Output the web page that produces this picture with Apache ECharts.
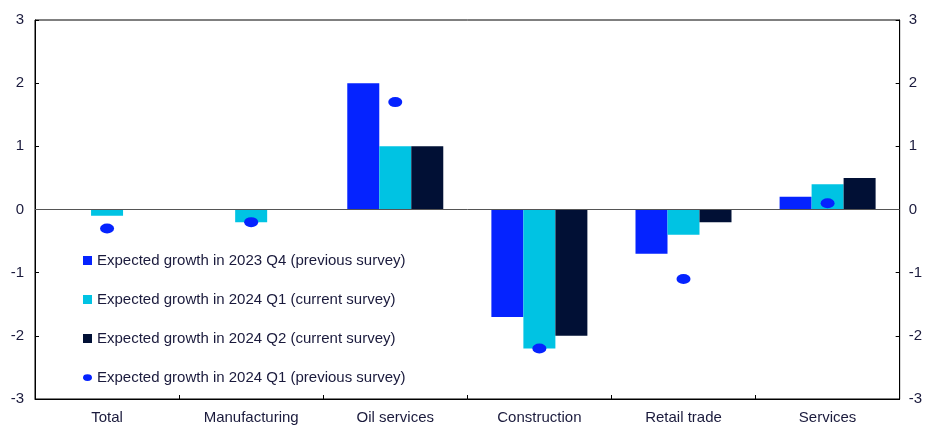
<!DOCTYPE html>
<html>
<head>
<meta charset="utf-8">
<script src="https://cdn.jsdelivr.net/npm/echarts@6/dist/echarts.min.js"></script>
<style>
  html, body { margin: 0; padding: 0; background: #fff; }
  #chart { width: 925px; height: 425px; }
</style>
</head>
<body>
<div id="chart"></div>
<script>
// sectors on the x axis
const categories = ['Total', 'Manufacturing', 'Oil services', 'Construction', 'Retail trade', 'Services']

// bar series
const prev2023Q4 = [0, 0, 2.0, -1.7, -0.7, 0.2]
const cur2024Q1 = [-0.1, -0.2, 1.0, -2.2, -0.4, 0.4]
const cur2024Q2 = [0, 0, 1.0, -2.0, -0.2, 0.5]
// dots
const prev2024Q1 = [-0.3, -0.2, 1.7, -2.2, -1.1, 0.1]

const seriesNames = [
  'Expected growth in 2023 Q4 (previous survey)',
  'Expected growth in 2024 Q1 (current survey)',
  'Expected growth in 2024 Q2 (current survey)',
  'Expected growth in 2024 Q1 (previous survey)'
]

const ink = '#1a1a3c'
const font = 'Liberation Sans, Arial, sans-serif'
const colors = ['#0523ff', '#00c3e3', '#011035', '#0523ff']

function valueAxis(pos) {
  return {
    type: 'value',
    position: pos,
    min: -3,
    max: 3,
    interval: 1,
    axisLine: { show: true, lineStyle: { color: '#000', width: 1 } },
    axisTick: { show: true, inside: true, length: 4, lineStyle: { color: '#000' } },
    splitLine: { show: false },
    axisLabel: {
      color: ink, fontFamily: font, fontSize: 15,
      margin: pos === 'left' ? 11 : 9
    }
  }
}

const chart = echarts.init(document.getElementById('chart'), null, { renderer: 'canvas' })

const barCommon = {
  type: 'bar',
  barWidth: 32,
  barGap: '0%',
  animation: false
}

chart.setOption({
  animation: false,
  grid: {
    left: 35, right: 24, top: 20, bottom: 23,
    show: true, borderColor: '#000', borderWidth: 1
  },
  legend: {
    orient: 'vertical',
    left: 78,
    top: 248,
    itemGap: 24,
    itemWidth: 9,
    itemHeight: 9,
    textStyle: { color: ink, fontFamily: font, fontSize: 15 },
    data: [
      { name: seriesNames[0], icon: 'rect' },
      { name: seriesNames[1], icon: 'rect' },
      { name: seriesNames[2], icon: 'rect' },
      { name: seriesNames[3], icon: 'path://M0,3 A4,3 0 1 1 8,3 A4,3 0 1 1 0,3 Z' }
    ]
  },
  xAxis: {
    type: 'category',
    data: categories,
    axisLine: { onZero: false, lineStyle: { color: '#000' } },
    axisTick: { show: true, inside: true, length: 4, lineStyle: { color: '#000' } },
    axisLabel: { color: ink, fontFamily: font, fontSize: 15, margin: 11, interval: 0 },
    splitLine: { show: false }
  },
  yAxis: [valueAxis('left'), valueAxis('right')],
  series: [
    {
      ...barCommon,
      name: seriesNames[0],
      data: prev2023Q4,
      itemStyle: { color: colors[0] },
      markLine: {
        silent: true,
        symbol: 'none',
        label: { show: false },
        lineStyle: { color: '#555', type: 'solid', width: 1 },
        data: [{ yAxis: 0 }]
      }
    },
    { ...barCommon, name: seriesNames[1], data: cur2024Q1, itemStyle: { color: colors[1] } },
    { ...barCommon, name: seriesNames[2], data: cur2024Q2, itemStyle: { color: colors[2] } },
    {
      type: 'scatter',
      name: seriesNames[3],
      data: prev2024Q1,
      symbol: 'circle',
      symbolSize: [14, 10],
      itemStyle: { color: colors[3], opacity: 1 },
      z: 5
    }
  ]
})
</script>
</body>
</html>
